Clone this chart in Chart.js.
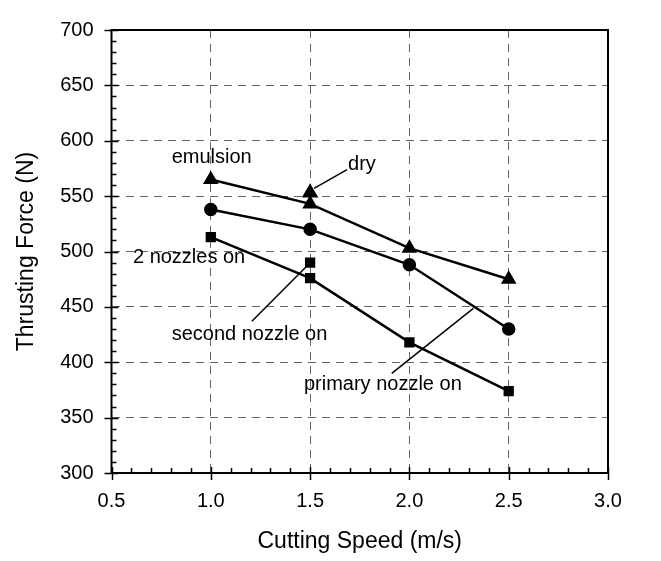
<!DOCTYPE html>
<html>
<head>
<meta charset="utf-8">
<script src="https://cdn.jsdelivr.net/npm/chart.js@4"></script>
<style>
  html, body { margin: 0; padding: 0; background: #fff; }
  #wrap { width: 661px; height: 561px; }
</style>
</head>
<body>
<div id="wrap"><canvas id="c" width="661" height="561"></canvas></div>
<script>
// ---- data ----
const speeds = [1.0, 1.5, 2.0, 2.5];
const emulsion = [565, 543, 503, 475];
const primaryNozzle = [538, 520, 488, 430];
const twoNozzles = [513, 476, 418, 374];
const dryPoint = [{x: 1.5, y: 553}];
const secondNozzlePoint = [{x: 1.5, y: 490}];
const xTicks = [0.5, 1.0, 1.5, 2.0, 2.5, 3.0];
const yTicks = [300, 350, 400, 450, 500, 550, 600, 650, 700];

// annotation texts (data coords of left / middle)
const labels = [
  {text: 'emulsion', x: 0.803, y: 585},
  {text: 'dry', x: 1.691, y: 579},
  {text: '2 nozzles on', x: 0.608, y: 495},
  {text: 'second nozzle on', x: 0.803, y: 425},
  {text: 'primary nozzle on', x: 1.469, y: 380}
];
// leader lines
const leaderDry = [{x: 1.686, y: 574}, {x: 1.52, y: 557}];
const leaderSecond = [{x: 1.207, y: 437}, {x: 1.479, y: 486}];
const leaderPrimary = [{x: 1.911, y: 390}, {x: 2.322, y: 448.6}];

const FONT = "'Liberation Sans', Arial, Helvetica, sans-serif";
const toPts = (xs, ys) => xs.map((x, i) => ({x, y: ys[i]}));

const decor = {
  id: 'decor',
  afterDraw(chart) {
    const {ctx, chartArea: a, scales: {x, y}} = chart;
    ctx.save();
    ctx.strokeStyle = '#000';
    ctx.lineWidth = 2;
    ctx.strokeRect(a.left, a.top, a.right - a.left, a.bottom - a.top);
    ctx.lineWidth = 1.5;
    ctx.beginPath();
    for (let v = yTicks[0]; v <= yTicks[yTicks.length - 1] + 0.001; v += 10) {
      const py = Math.round(y.getPixelForValue(v)) + 0.5;
      const major = yTicks.some(t => Math.abs(t - v) < 0.01);
      ctx.moveTo(a.left - (major ? 7 : 0), py);
      ctx.lineTo(a.left + (major ? 7 : 5), py);
    }
    for (let v = xTicks[0]; v <= xTicks[xTicks.length - 1] + 0.001; v += 0.1) {
      const px = Math.round(x.getPixelForValue(v)) + 0.5;
      const major = xTicks.some(t => Math.abs(t - v) < 0.01);
      ctx.moveTo(px, a.bottom + (major ? 7 : 0));
      ctx.lineTo(px, a.bottom - (major ? 6 : 5));
    }
    ctx.stroke();
    ctx.fillStyle = '#000';
    ctx.font = '20px ' + FONT;
    ctx.textBaseline = 'middle';
    ctx.textAlign = 'left';
    labels.forEach(l => {
      ctx.fillText(l.text, x.getPixelForValue(l.x), y.getPixelForValue(l.y));
    });
    ctx.restore();
  }
};

const lineDs = (data, style, radius) => ({
  data, showLine: true, borderColor: '#000', backgroundColor: '#000',
  borderWidth: 2.5, pointStyle: style, pointRadius: radius, pointHoverRadius: radius
});
const pointDs = (data, style, radius) => ({
  data, showLine: false, borderColor: '#000', backgroundColor: '#000',
  borderWidth: 2.5, pointStyle: style, pointRadius: radius, pointHoverRadius: radius
});
const leaderDs = (data) => ({
  data, showLine: true, borderColor: '#000', borderWidth: 1.5, pointRadius: 0
});

new Chart(document.getElementById('c'), {
  type: 'scatter',
  data: {
    datasets: [
      lineDs(toPts(speeds, emulsion), 'triangle', 6.5),
      lineDs(toPts(speeds, primaryNozzle), 'circle', 5.5),
      lineDs(toPts(speeds, twoNozzles), 'rect', 5.5),
      pointDs(dryPoint, 'triangle', 7),
      pointDs(secondNozzlePoint, 'rect', 5.5),
      leaderDs(leaderDry),
      leaderDs(leaderSecond),
      leaderDs(leaderPrimary)
    ]
  },
  options: {
    responsive: false,
    animation: false,
    events: [],
    layout: {padding: {top: 21, right: 53, left: 0, bottom: 0}},
    plugins: {legend: {display: false}, tooltip: {enabled: false}},
    scales: {
      x: {
        type: 'linear', min: 0.5, max: 3.0,
        afterBuildTicks: s => { s.ticks = xTicks.map(v => ({value: v})); },
        afterFit: s => { s.height = 88; },
        ticks: {color: '#000', font: {family: FONT, size: 20}, padding: 16, maxRotation: 0,
          callback: v => Number(v).toFixed(1)},
        grid: {color: '#666', lineWidth: 1, drawTicks: false},
        border: {display: false, dash: [8, 6]},
        title: {display: true, text: 'Cutting Speed (m/s)', color: '#000',
          font: {family: FONT, size: 23}, padding: {top: 0, bottom: 6}}
      },
      y: {
        type: 'linear', min: 300, max: 700,
        afterBuildTicks: s => { s.ticks = yTicks.map(v => ({value: v})); },
        afterFit: s => { s.width = 111.5; },
        ticks: {color: '#000', font: {family: FONT, size: 20}, padding: 18},
        grid: {color: '#666', lineWidth: 1, drawTicks: false},
        border: {display: false, dash: [8, 6]},
        title: {display: true, text: 'Thrusting Force (N)', color: '#000',
          font: {family: FONT, size: 23}, padding: {top: 13, bottom: 0}}
      }
    }
  },
  plugins: [decor]
});
</script>
</body>
</html>
